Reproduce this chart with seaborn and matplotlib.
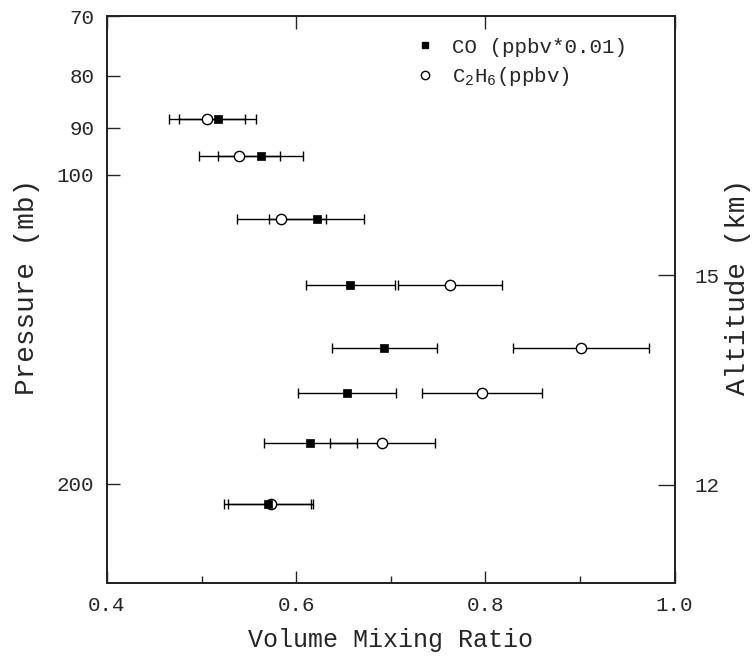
import numpy as np
import pandas as pd
import matplotlib
matplotlib.use('Agg')
import matplotlib.pyplot as plt
from matplotlib.lines import Line2D
from matplotlib.ticker import MultipleLocator, NullLocator, FixedLocator
import seaborn as sns

# data: pressure levels (mb) and mixing ratios
pressure = [88.2, 95.9, 110.4, 128.0, 147.6, 163.2, 182.6, 209.3]
co = [0.517, 0.5625, 0.6215, 0.657, 0.693, 0.654, 0.615, 0.570]
co_err = [0.041, 0.045, 0.050, 0.047, 0.0555, 0.052, 0.049, 0.046]
c2h6 = [0.506, 0.540, 0.584, 0.763, 0.901, 0.796, 0.691, 0.573]
c2h6_err = [0.040, 0.043, 0.047, 0.055, 0.072, 0.0635, 0.0556, 0.045]

p_ticks = [70, 80, 90, 100, 200]
alt_ticks = [15, 12]
# altitude axis: 12 km at ~200.6 mb, ~14.66 km per decade of pressure
p_ref, z_ref, km_per_decade = 200.6, 12, 14.66

sns.set_style("ticks")
plt.rcParams['font.family'] = ['Liberation Mono', 'DejaVu Sans']
plt.rcParams['mathtext.fontset'] = 'custom'
plt.rcParams['mathtext.rm'] = 'Liberation Mono'
plt.rcParams['mathtext.it'] = 'Liberation Mono'
plt.rcParams['mathtext.default'] = 'regular'

df = pd.DataFrame({'pressure': pressure, 'co': co, 'c2h6': c2h6})

fig = plt.figure(figsize=(7.53, 6.57), dpi=100)
ax = fig.add_axes([0.142, 0.1126, 0.754, 0.863])

ax.errorbar(c2h6, pressure, xerr=c2h6_err, fmt='none', ecolor='black',
            elinewidth=1, capsize=3.5, capthick=1, zorder=1)
ax.errorbar(co, pressure, xerr=co_err, fmt='none', ecolor='black',
            elinewidth=1, capsize=3.5, capthick=1, zorder=1)
sns.scatterplot(data=df, x='c2h6', y='pressure', marker='o', s=55,
                facecolor='white', edgecolor='black', linewidth=1, ax=ax, zorder=3)
sns.scatterplot(data=df, x='co', y='pressure', marker='s', s=34,
                color='black', edgecolor='black', linewidth=0.5, ax=ax, zorder=4)

ax.set_yscale('log')
ax.set_ylim(250, 70)
ax.set_xlim(0.4, 1.0)
ax.yaxis.set_major_locator(FixedLocator(p_ticks))
ax.yaxis.set_minor_locator(NullLocator())
ax.set_yticklabels([str(p) for p in p_ticks])
ax.xaxis.set_major_locator(MultipleLocator(0.2))
ax.xaxis.set_minor_locator(MultipleLocator(0.1))
ax.set_xticklabels(['%.1f' % v for v in ax.get_xticks()])

ax.tick_params(which='major', direction='in', length=9, width=1,
               top=True, right=False, labelsize=15, pad=9)
ax.tick_params(which='minor', direction='in', length=5, width=1, top=False)
for s in ax.spines.values():
    s.set_linewidth(1.3)
    s.set_color('black')

ax.set_xlabel('Volume Mixing Ratio', fontsize=18, labelpad=10)
ax.set_ylabel('Pressure (mb)', fontsize=20, labelpad=12)
ax.yaxis.label.set_y(0.523)

ax2 = ax.twinx()
ax2.set_yscale('log')
ax2.set_ylim(ax.get_ylim())
alt_p = [p_ref * 10 ** (-(z - z_ref) / km_per_decade) for z in alt_ticks]
ax2.yaxis.set_major_locator(FixedLocator(alt_p))
ax2.yaxis.set_minor_locator(NullLocator())
ax2.set_yticklabels([str(z) for z in alt_ticks])
ax2.tick_params(direction='in', length=12, width=1, labelsize=15, pad=14)
ax2.set_ylabel('Altitude (km)', fontsize=20, labelpad=4)
ax2.yaxis.label.set_y(0.523)
for s in ax2.spines.values():
    s.set_linewidth(1.3)

handles = [Line2D([], [], marker='s', color='black', linestyle='none', markersize=5),
           Line2D([], [], marker='o', markerfacecolor='white', markeredgecolor='black',
                  linestyle='none', markersize=6)]
ax.legend(handles, ['CO (ppbv*0.01)', 'C$_2$H$_6$(ppbv)'], loc='upper left',
          bbox_to_anchor=(0.505, 0.995), frameon=False, fontsize=15,
          handletextpad=0.7, handlelength=1.2, labelspacing=0.4)

fig.savefig('out.png', dpi=100)
